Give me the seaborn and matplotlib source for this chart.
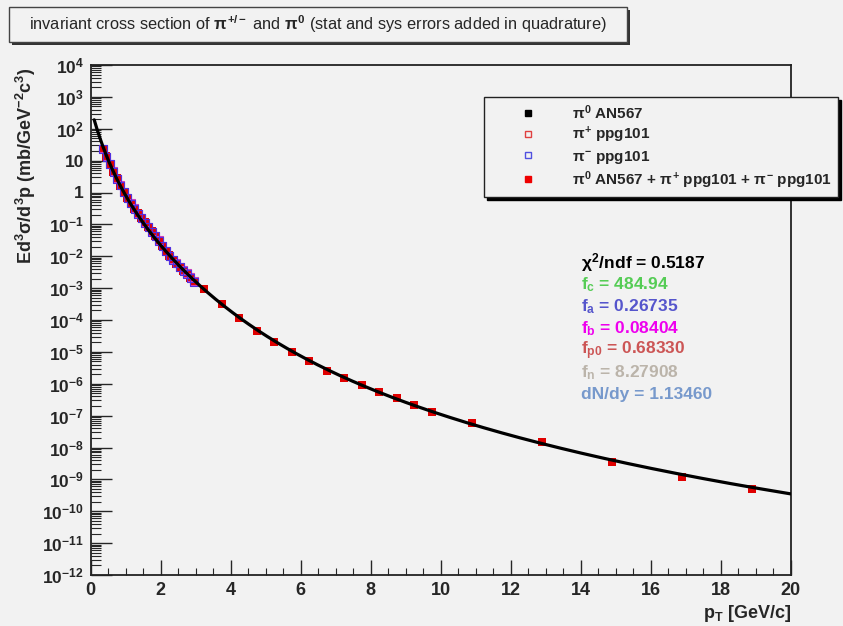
import numpy as np
import matplotlib
matplotlib.use("Agg")
import matplotlib.pyplot as plt
import seaborn as sns
from matplotlib.patches import Rectangle
from matplotlib.lines import Line2D
from matplotlib.ticker import FixedLocator, FixedFormatter, LogLocator, NullFormatter, MultipleLocator

# ---- data ----
# charged pions ppg101 (low pT)
pt_low = [0.35, 0.45, 0.55, 0.65, 0.75, 0.85, 0.95, 1.05, 1.15, 1.25, 1.35, 1.45, 1.55, 1.65,
          1.75, 1.85, 1.95, 2.05, 2.15, 2.25, 2.35, 2.45, 2.55, 2.65, 2.75, 2.85, 2.95]
pip_y = [24, 13.5, 7.8, 4.6, 2.75, 1.7, 1.05, 0.68, 0.46, 0.32, 0.22, 0.16, 0.115, 0.083,
         0.060, 0.044, 0.032, 0.021, 0.0145, 0.0105, 0.0079, 0.0060, 0.0047, 0.0036, 0.0029, 0.0022, 0.0017]
pim_y = [23, 13.0, 7.6, 4.5, 2.7, 1.65, 1.02, 0.66, 0.45, 0.31, 0.215, 0.155, 0.112, 0.081,
         0.059, 0.043, 0.031, 0.0205, 0.0142, 0.0103, 0.0077, 0.0059, 0.0046, 0.0035, 0.0028, 0.0021, 0.0016]

# neutral pions AN567
pi0_x = [1.25, 1.75, 2.25, 2.75, 3.25, 3.75, 4.25, 4.75, 5.25, 5.75, 6.25, 6.75, 7.25, 7.75,
         8.25, 8.75, 9.25, 9.75, 10.9, 12.9, 14.9, 16.9, 18.9]
pi0_y = [0.33, 0.061, 0.0107, 0.0029, 9.3e-4, 3.2e-4, 1.15e-4, 4.5e-5, 2.0e-5, 1.0e-5, 5.2e-6,
         2.5e-6, 1.5e-6, 9.1e-7, 5.5e-7, 3.6e-7, 2.1e-7, 1.3e-7, 5.9e-8, 1.5e-8, 3.5e-9, 1.2e-9, 5.0e-10]

# fit parameters shown in the picture
chi2_ndf = 0.5187
f_c = 484.94
f_a = 0.26735
f_b = 0.08404
f_p0 = 0.68330
f_n = 8.27908
dndy = 1.13460

# combined sample = all points
comb_x = pt_low + pt_low + pi0_x
comb_y = pip_y + pim_y + pi0_y

BG = "#f2f2f2"

sns.set_style("ticks")
plt.rcParams["font.family"] = ["Liberation Sans", "DejaVu Sans"]
plt.rcParams["font.weight"] = "bold"
plt.rcParams["mathtext.fontset"] = "custom"
plt.rcParams["mathtext.rm"] = "Liberation Sans:bold"
plt.rcParams["mathtext.it"] = "Liberation Sans:bold"
plt.rcParams["mathtext.bf"] = "Liberation Sans:bold"

W, H = 843, 626
fig = plt.figure(figsize=(W / 100, H / 100), dpi=100, facecolor=BG)
ax = fig.add_axes([90.7 / W, 1 - 575 / H, 700 / W, 510 / H])
ax.set_facecolor(BG)

# fit curve
xf = np.linspace(0.1, 20, 500)
yf = f_c * (np.exp(-f_a * xf - f_b * xf ** 2) + xf / f_p0) ** (-f_n)
sns.lineplot(x=xf, y=yf, color="black", lw=2.3, estimator=None, ax=ax, zorder=6, legend=False)

ms = 32
sns.scatterplot(x=pi0_x, y=pi0_y, marker="s", s=ms, color="black", edgecolor="black",
                linewidth=0, ax=ax, zorder=2, legend=False)
sns.scatterplot(x=comb_x, y=comb_y, marker="s", s=ms, color="#e00000", edgecolor="#e00000",
                linewidth=0, ax=ax, zorder=3, legend=False)
sns.scatterplot(x=pt_low, y=pip_y, marker="s", s=ms, facecolor="none", edgecolor="#d040c0",
                linewidth=0.8, ax=ax, zorder=4, legend=False)
sns.scatterplot(x=pt_low, y=pim_y, marker="s", s=ms, facecolor="none", edgecolor="#5030e0",
                linewidth=0.8, ax=ax, zorder=5, legend=False)

ax.set_yscale("log")
ax.set_xlim(0, 20)
ax.set_ylim(1e-12, 1e4)

exps = list(range(-12, 5))
ylabels = ["1" if e == 0 else "10" if e == 1 else r"$10^{%d}$" % e for e in exps]
ax.yaxis.set_major_locator(FixedLocator([10.0 ** e for e in exps]))
ax.yaxis.set_major_formatter(FixedFormatter(ylabels))
ax.yaxis.set_minor_locator(LogLocator(base=10, subs=np.arange(2, 10), numticks=100))
ax.yaxis.set_minor_formatter(NullFormatter())
ax.xaxis.set_major_locator(MultipleLocator(2))
ax.xaxis.set_minor_locator(MultipleLocator(0.5))

ax.tick_params(axis="y", which="major", direction="in", length=15, width=1, labelsize=12.5, pad=5)
ax.tick_params(axis="y", which="minor", direction="in", length=7.5, width=0.8)
ax.tick_params(axis="x", which="major", direction="in", length=10.5, width=1, labelsize=13, pad=5)
ax.tick_params(axis="x", which="minor", direction="in", length=5.2, width=0.8)
for side in ["top", "right", "left", "bottom"]:
    ax.spines[side].set_visible(True)
    ax.spines[side].set_linewidth(1.3)
    ax.spines[side].set_color("#222222")
ax.set_xlabel("")
ax.set_ylabel("")

fig.text(26 / W, 1 - 68 / H, r"Ed$^{3}\sigma$/d$^{3}$p (mb/GeV$^{-2}$c$^{3}$)", rotation=90,
         ha="center", va="top", fontsize=13, fontweight="bold")
fig.text(791 / W, 1 - 613 / H, r"p$_{\mathrm{T}}$ [GeV/c]", ha="right", va="center",
         fontsize=13, fontweight="bold")

# title box with shadow
def fig_rect(x0, y0, x1, y1, **kw):
    fig.patches.append(Rectangle((x0 / W, 1 - y1 / H), (x1 - x0) / W, (y1 - y0) / H,
                                 transform=fig.transFigure, figure=fig, **kw))

fig_rect(12, 10, 630, 45, facecolor="#333333", edgecolor="none", zorder=1)
fig_rect(9, 7, 627, 42, facecolor=BG, edgecolor="#444444", lw=1, zorder=2)
fig.text(318 / W, 1 - 24.5 / H,
         r"invariant cross section of $\pi^{+/-}$ and $\pi^{0}$ (stat and sys errors added in quadrature)",
         ha="center", va="center", fontsize=11.8, fontweight="normal", zorder=3)

# legend
handles = [
    Line2D([], [], ls="none", marker="s", ms=5, mfc="black", mec="black"),
    Line2D([], [], ls="none", marker="s", ms=5, mfc="none", mec="#e04040", mew=1),
    Line2D([], [], ls="none", marker="s", ms=5, mfc="none", mec="#5050e0", mew=1),
    Line2D([], [], ls="none", marker="s", ms=5, mfc="#ee0000", mec="#ee0000"),
]
labels = [r"$\pi^{0}$ AN567", r"$\pi^{+}$ ppg101", r"$\pi^{-}$ ppg101",
          r"$\pi^{0}$ AN567 + $\pi^{+}$ ppg101 + $\pi^{-}$ ppg101"]
leg = fig.legend(handles, labels, loc="upper left", bbox_to_anchor=(484 / W, 1 - 97 / H),
                 bbox_transform=fig.transFigure, fontsize=11, frameon=True, fancybox=False,
                 edgecolor="#222222", facecolor=BG, framealpha=1, borderaxespad=0,
                 borderpad=0.4, handlelength=4.95, handletextpad=0.4, labelspacing=0.22,
                 shadow={"color": "black", "alpha": 1})
leg.get_frame().set_linewidth(1)

# fit results
stats = [
    (r"$\chi^{2}$/ndf = %.4f" % chi2_ndf, "black"),
    (r"f$_{\mathrm{c}}$ = %.2f" % f_c, "#55cc55"),
    (r"f$_{\mathrm{a}}$ = %.5f" % f_a, "#5555cc"),
    (r"f$_{\mathrm{b}}$ = %.5f" % f_b, "#ee00ee"),
    (r"f$_{\mathrm{p0}}$ = %.5f" % f_p0, "#cc5555"),
    (r"f$_{\mathrm{n}}$ = %.5f" % f_n, "#bbb4aa"),
    ("dN/dy = %.5f" % dndy, "#7799cc"),
]
for i, (txt, col) in enumerate(stats):
    fig.text(580.7 / W, 1 - (263 + 22 * i) / H, txt, color=col, ha="left", va="center",
             fontsize=12.5, fontweight="bold")

fig.savefig("out.png", dpi=100, facecolor=BG)
